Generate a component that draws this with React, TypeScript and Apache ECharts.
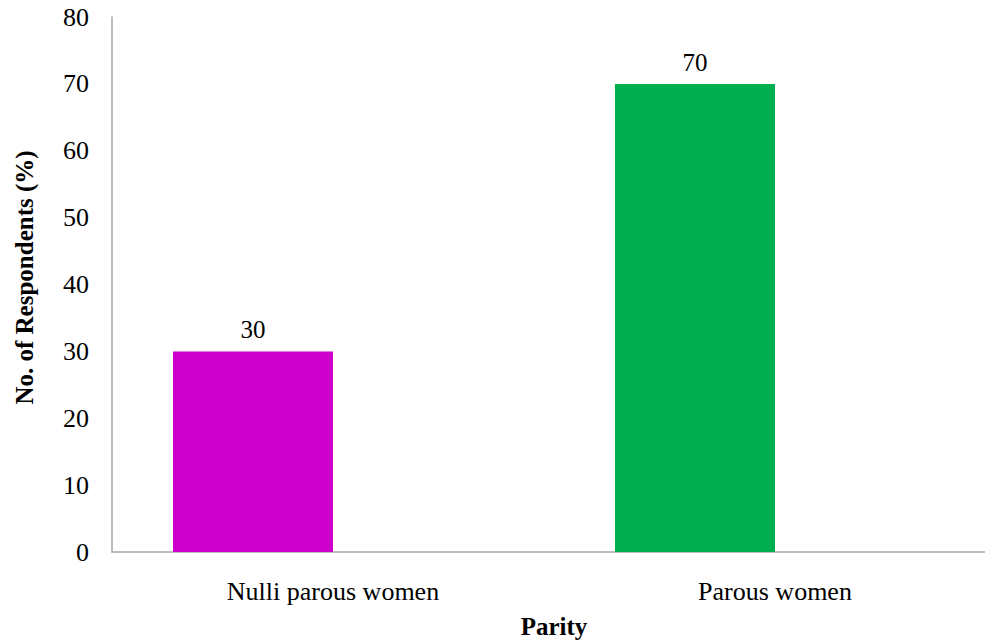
import React, { useEffect, useRef } from "react";
import * as echarts from "echarts";

const categories = ["Nulli parous women", "Parous women"];
const respondents = [30, 70];
const barColors = ["#CC00CC", "#00AF50"];
const emptySeries = [null, null];
const yTicks = { min: 0, max: 80, interval: 10 };

export default function App() {
  const ref = useRef<HTMLDivElement>(null);
  useEffect(() => {
    if (!ref.current) return;
    const chart = echarts.init(ref.current, null, { renderer: "svg" });
    const font = "'Liberation Serif', 'Times New Roman', serif";
    chart.setOption({
      animation: false,
      textStyle: { fontFamily: font },
      grid: { left: 112, right: 4, top: 17, bottom: 90, containLabel: false },
      xAxis: {
        type: "category",
        data: categories,
        axisLine: { show: true, lineStyle: { color: "#A6A6A6", width: 1.5 } },
        axisTick: { show: false },
        axisLabel: { color: "#000", fontFamily: font, fontSize: 26, margin: 26 },
        name: "Parity",
        nameLocation: "middle",
        nameGap: 62,
        nameTextStyle: { color: "#000", fontFamily: font, fontSize: 25, fontWeight: "bold" },
      },
      yAxis: {
        type: "value",
        min: yTicks.min,
        max: yTicks.max,
        interval: yTicks.interval,
        axisLine: { show: true, lineStyle: { color: "#A6A6A6", width: 1.5 } },
        axisTick: { show: false },
        splitLine: { show: false },
        axisLabel: { color: "#000", fontFamily: font, fontSize: 26, margin: 23 },
        name: "No. of Respondents (%)",
        nameLocation: "middle",
        nameGap: 75,
        nameTextStyle: {
          color: "#000",
          fontFamily: font,
          fontSize: 25,
          fontWeight: "bold",
          padding: [0, 0, 0, 14],
        },
      },
      series: [
        {
          type: "bar",
          name: "Respondents",
          data: respondents.map((v, i) => ({ value: v, itemStyle: { color: barColors[i] } })),
          barGap: "0%",
          barCategoryGap: "27.6%",
          label: {
            show: true,
            position: "top",
            distance: 9,
            color: "#000",
            fontFamily: font,
            fontSize: 25,
          },
        },
        {
          type: "bar",
          name: "empty",
          data: emptySeries,
          barGap: "0%",
          barCategoryGap: "27.6%",
        },
      ],
    });
    return () => chart.dispose();
  }, []);
  return (
    <div
      style={{ position: "absolute", left: 0, top: 0, width: 985, height: 644, overflow: "hidden", background: "#fff" }}
    >
      <div ref={ref} style={{ position: "absolute", left: 0, top: 0, width: 1000, height: 644 }} />
    </div>
  );
}
